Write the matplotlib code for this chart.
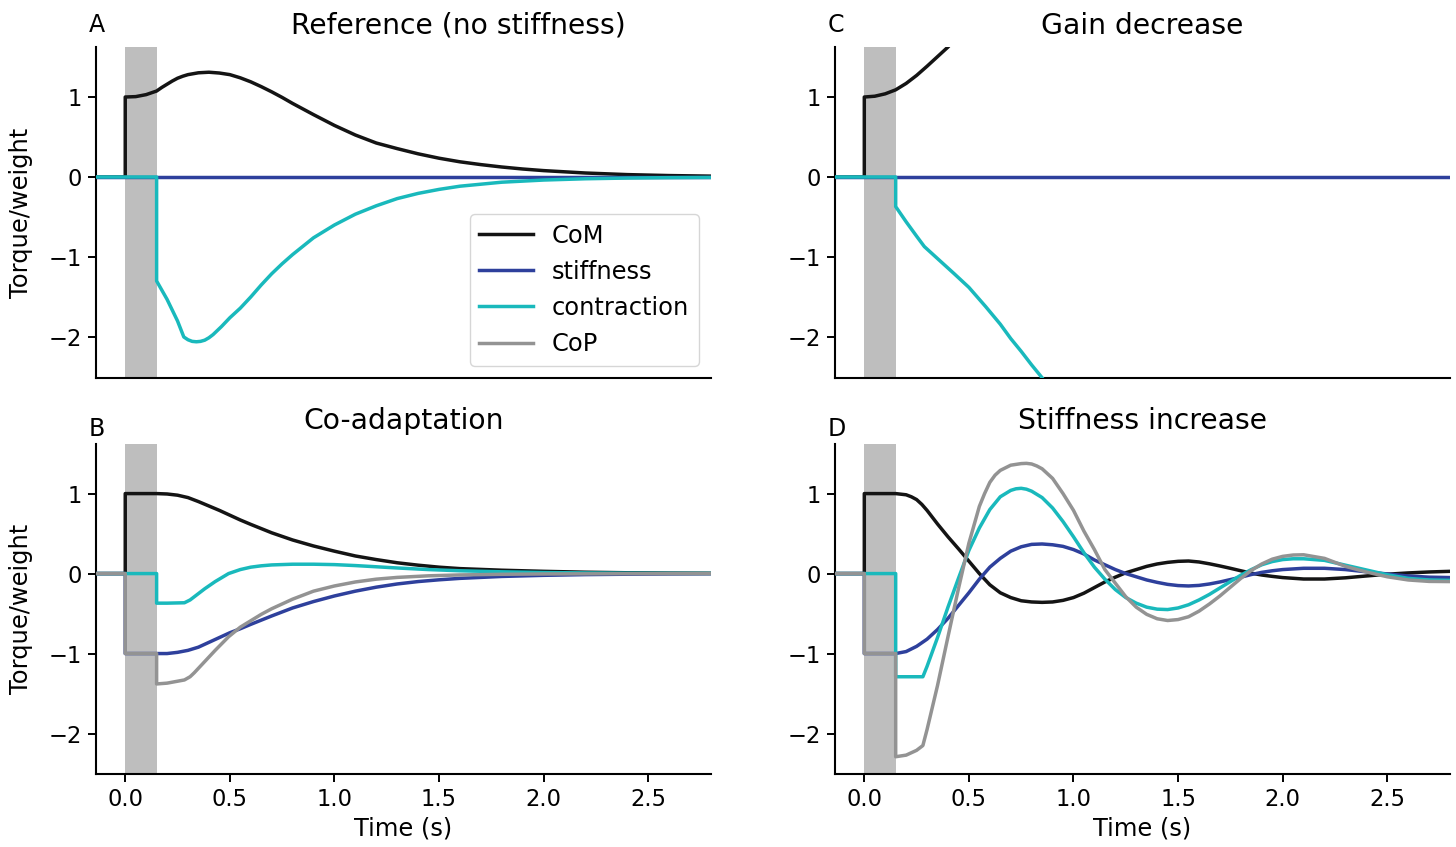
import matplotlib
matplotlib.use("Agg")
import matplotlib.pyplot as plt
from matplotlib.lines import Line2D

plt.rcParams['font.family'] = ['DejaVu Sans']

# ---------------- data ----------------
series_names = ["CoM", "stiffness", "contraction", "CoP"]
panel_titles = {"A": "Reference (no stiffness)", "B": "Co-adaptation",
                "C": "Gain decrease", "D": "Stiffness increase"}
xticks = [0.0, 0.5, 1.0, 1.5, 2.0, 2.5]
yticks = [1, 0, -1, -2]
delay_span = [0.0, 0.15]

# Panel A
A_com_t = [-0.14, 0.0, 0.0, 0.05, 0.10, 0.15, 0.175, 0.20, 0.225, 0.25, 0.275, 0.30, 0.35,
           0.40, 0.45, 0.50, 0.55, 0.60, 0.65, 0.70, 0.75, 0.80, 0.90, 1.00, 1.10, 1.20,
           1.30, 1.40, 1.50, 1.60, 1.70, 1.80, 1.90, 2.00, 2.20, 2.40, 2.60, 2.80]
A_com_y = [0, 0, 1.00, 1.005, 1.03, 1.075, 1.12, 1.16, 1.20, 1.235, 1.26, 1.28, 1.303,
           1.31, 1.30, 1.28, 1.24, 1.19, 1.13, 1.065, 0.995, 0.92, 0.78, 0.645, 0.525, 0.425,
           0.355, 0.29, 0.235, 0.19, 0.155, 0.125, 0.10, 0.08, 0.05, 0.03, 0.018, 0.011]
A_stf_t = [-0.14, 2.80]
A_stf_y = [0, 0]
A_con_t = [-0.14, 0.15, 0.15, 0.20, 0.25, 0.28, 0.30, 0.32, 0.34, 0.36, 0.38, 0.40, 0.42,
           0.46, 0.50, 0.55, 0.60, 0.65, 0.70, 0.75, 0.80, 0.90, 1.00, 1.10, 1.20, 1.30,
           1.40, 1.50, 1.60, 1.80, 2.00, 2.20, 2.40, 2.60, 2.80]
A_con_y = [0, 0, -1.30, -1.53, -1.80, -2.00, -2.035, -2.055, -2.06, -2.055, -2.04, -2.01,
           -1.97, -1.87, -1.76, -1.64, -1.50, -1.35, -1.21, -1.085, -0.97, -0.76, -0.60,
           -0.465, -0.36, -0.27, -0.205, -0.155, -0.115, -0.065, -0.038, -0.022, -0.013,
           -0.008, -0.005]

# Panel B
B_com_t = [-0.14, 0.0, 0.0, 0.15, 0.20, 0.25, 0.30, 0.35, 0.40, 0.45, 0.50, 0.55, 0.60, 0.70,
           0.80, 0.90, 1.00, 1.10, 1.20, 1.30, 1.40, 1.50, 1.60, 1.80, 2.00, 2.20, 2.40, 2.60,
           2.80]
B_com_y = [0, 0, 1.0, 1.0, 0.995, 0.98, 0.95, 0.90, 0.845, 0.79, 0.73, 0.67, 0.615, 0.51,
           0.42, 0.345, 0.28, 0.22, 0.175, 0.135, 0.105, 0.08, 0.062, 0.042, 0.028, 0.017,
           0.01, 0.006, 0.004]
B_stf_t = [-0.14, 0.0, 0.0, 0.15, 0.20, 0.25, 0.30, 0.35, 0.40, 0.45, 0.50, 0.55, 0.60, 0.70,
           0.80, 0.90, 1.00, 1.10, 1.20, 1.30, 1.40, 1.50, 1.60, 1.80, 2.00, 2.20, 2.40, 2.60,
           2.80]
B_stf_y = [0, 0, -1.0, -1.0, -1.0, -0.985, -0.96, -0.92, -0.86, -0.80, -0.74, -0.69, -0.635,
           -0.53, -0.43, -0.35, -0.28, -0.22, -0.17, -0.13, -0.10, -0.078, -0.06, -0.036,
           -0.022, -0.013, -0.008, -0.005, -0.003]
B_con_t = [-0.14, 0.15, 0.15, 0.20, 0.283, 0.31, 0.34, 0.38, 0.43, 0.494, 0.55, 0.60, 0.65,
           0.70, 0.80, 0.90, 1.00, 1.10, 1.20, 1.30, 1.45, 1.60, 1.80, 2.00, 2.20, 2.40, 2.60,
           2.80]
B_con_y = [0, 0, -0.37, -0.37, -0.365, -0.33, -0.27, -0.19, -0.10, 0.0, 0.05, 0.08, 0.097,
           0.108, 0.117, 0.117, 0.112, 0.10, 0.085, 0.07, 0.05, 0.035, 0.022, 0.013, 0.008,
           0.005, 0.003, 0.002]
B_cop_t = [-0.14, 0.0, 0.0, 0.15, 0.15, 0.20, 0.283, 0.31, 0.33, 0.38, 0.43, 0.494, 0.55,
           0.60, 0.65, 0.70, 0.80, 0.90, 1.00, 1.10, 1.20, 1.30, 1.45, 1.60, 1.80, 2.00, 2.40,
           2.80]
B_cop_y = [0, 0, -1.0, -1.0, -1.38, -1.37, -1.33, -1.29, -1.24, -1.10, -0.96, -0.79, -0.67,
           -0.59, -0.51, -0.44, -0.32, -0.22, -0.155, -0.105, -0.07, -0.048, -0.028, -0.017,
           -0.009, -0.005, -0.002, -0.001]

# Panel C
C_com_t = [-0.14, 0.0, 0.0, 0.05, 0.10, 0.15, 0.20, 0.25, 0.30, 0.35, 0.40, 0.45]
C_com_y = [0, 0, 1.0, 1.01, 1.04, 1.09, 1.17, 1.27, 1.385, 1.505, 1.625, 1.77]
C_stf_t = [-0.14, 2.80]
C_stf_y = [0, 0]
C_con_t = [-0.14, 0.15, 0.15, 0.20, 0.25, 0.287, 0.35, 0.43, 0.50, 0.58, 0.65, 0.70, 0.75,
           0.80, 0.85, 0.88]
C_con_y = [0, 0, -0.37, -0.56, -0.74, -0.87, -1.02, -1.21, -1.38, -1.62, -1.84, -2.02, -2.18,
           -2.35, -2.51, -2.62]

# Panel D
D_com_t = [-0.14, 0.0, 0.0, 0.10, 0.15, 0.20, 0.225, 0.25, 0.275, 0.30, 0.35, 0.40, 0.45,
           0.50, 0.55, 0.60, 0.65, 0.70, 0.75, 0.80, 0.85, 0.90, 0.95, 1.00, 1.05, 1.10, 1.15,
           1.20, 1.25, 1.30, 1.35, 1.40, 1.45, 1.50, 1.55, 1.60, 1.65, 1.70, 1.75, 1.80, 1.85,
           1.90, 1.95, 2.00, 2.10, 2.20, 2.30, 2.40, 2.50, 2.60, 2.70, 2.80]
D_com_y = [0, 0, 1.0, 1.0, 1.0, 0.985, 0.96, 0.925, 0.865, 0.79, 0.62, 0.46, 0.31, 0.155,
           0.0, -0.14, -0.24, -0.30, -0.34, -0.355, -0.36, -0.355, -0.335, -0.30, -0.245,
           -0.175, -0.105, -0.045, 0.01, 0.05, 0.09, 0.12, 0.14, 0.153, 0.157, 0.145, 0.122,
           0.095, 0.066, 0.035, 0.005, -0.018, -0.035, -0.05, -0.068, -0.068, -0.053, -0.03,
           -0.008, 0.008, 0.02, 0.028]
D_stf_t = [-0.14, 0.0, 0.0, 0.15, 0.20, 0.25, 0.30, 0.35, 0.40, 0.45, 0.50, 0.55, 0.60, 0.65,
           0.70, 0.75, 0.80, 0.85, 0.90, 0.95, 1.00, 1.05, 1.10, 1.15, 1.20, 1.25, 1.30, 1.35,
           1.40, 1.45, 1.50, 1.55, 1.60, 1.65, 1.70, 1.75, 1.80, 1.85, 1.90, 1.95, 2.00, 2.10,
           2.20, 2.30, 2.40, 2.50, 2.60, 2.70, 2.80]
D_stf_y = [0, 0, -1.0, -1.0, -0.975, -0.91, -0.82, -0.70, -0.56, -0.40, -0.24, -0.07, 0.08,
           0.19, 0.28, 0.335, 0.365, 0.37, 0.36, 0.34, 0.30, 0.245, 0.17, 0.11, 0.05, 0.0,
           -0.04, -0.08, -0.11, -0.135, -0.15, -0.155, -0.148, -0.13, -0.105, -0.075, -0.045,
           -0.012, 0.015, 0.035, 0.05, 0.066, 0.066, 0.05, 0.022, -0.005, -0.03, -0.045, -0.05]
D_con_t = [-0.14, 0.15, 0.15, 0.28, 0.30, 0.35, 0.40, 0.45, 0.50, 0.55, 0.60, 0.65, 0.70,
           0.725, 0.75, 0.775, 0.80, 0.85, 0.90, 0.95, 1.00, 1.05, 1.10, 1.15, 1.20, 1.25,
           1.30, 1.35, 1.40, 1.45, 1.50, 1.55, 1.60, 1.65, 1.70, 1.75, 1.80, 1.85, 1.90, 1.95,
           2.00, 2.05, 2.10, 2.20, 2.30, 2.40, 2.50, 2.60, 2.70, 2.80]
D_con_y = [0, 0, -1.29, -1.29, -1.16, -0.80, -0.42, -0.06, 0.29, 0.57, 0.80, 0.96, 1.04,
           1.06, 1.066, 1.055, 1.03, 0.95, 0.82, 0.65, 0.46, 0.26, 0.08, -0.07, -0.20, -0.30,
           -0.37, -0.42, -0.445, -0.45, -0.43, -0.39, -0.33, -0.26, -0.18, -0.10, -0.02, 0.05,
           0.11, 0.15, 0.175, 0.185, 0.185, 0.165, 0.105, 0.045, -0.015, -0.06, -0.08, -0.085]
D_cop_t = [-0.14, 0.0, 0.0, 0.15, 0.15, 0.20, 0.25, 0.28, 0.30, 0.35, 0.40, 0.45, 0.50, 0.55,
           0.575, 0.60, 0.625, 0.65, 0.70, 0.75, 0.775, 0.80, 0.825, 0.85, 0.90, 0.95, 1.00,
           1.05, 1.10, 1.15, 1.20, 1.25, 1.30, 1.35, 1.40, 1.45, 1.50, 1.55, 1.60, 1.65, 1.70,
           1.75, 1.80, 1.85, 1.90, 1.95, 2.00, 2.05, 2.10, 2.20, 2.30, 2.40, 2.50, 2.60, 2.70,
           2.80]
D_cop_y = [0, 0, -1.0, -1.0, -2.29, -2.27, -2.21, -2.15, -1.95, -1.40, -0.79, -0.19, 0.38,
           0.84, 1.00, 1.14, 1.23, 1.29, 1.355, 1.375, 1.378, 1.37, 1.345, 1.31, 1.19, 1.00,
           0.79, 0.53, 0.30, 0.05, -0.12, -0.29, -0.42, -0.51, -0.565, -0.587, -0.575, -0.54,
           -0.47, -0.38, -0.28, -0.17, -0.06, 0.04, 0.12, 0.18, 0.215, 0.232, 0.235, 0.19,
           0.09, 0.02, -0.04, -0.08, -0.098, -0.10]

# ---------------- style ----------------
colors = {"CoM": "#141414", "stiffness": "#2e409c", "contraction": "#19b9bc", "CoP": "#939393"}
band_color = "#bebebe"
LW = 2.5

fig = plt.figure(figsize=(14.56, 8.47), dpi=100)
axw, axh = 0.4224, 0.390
positions = {"A": (0.0659, 0.554), "C": (0.5735, 0.554),
             "B": (0.0659, 0.0858), "D": (0.5735, 0.0858)}

panel_series = {
    "A": [("CoM", A_com_t, A_com_y), ("stiffness", A_stf_t, A_stf_y),
          ("contraction", A_con_t, A_con_y)],
    "B": [("CoM", B_com_t, B_com_y), ("stiffness", B_stf_t, B_stf_y),
          ("contraction", B_con_t, B_con_y), ("CoP", B_cop_t, B_cop_y)],
    "C": [("CoM", C_com_t, C_com_y), ("stiffness", C_stf_t, C_stf_y),
          ("contraction", C_con_t, C_con_y)],
    "D": [("CoM", D_com_t, D_com_y), ("stiffness", D_stf_t, D_stf_y),
          ("contraction", D_con_t, D_con_y), ("CoP", D_cop_t, D_cop_y)],
}

for key in ["A", "B", "C", "D"]:
    x0, y0 = positions[key]
    ax = fig.add_axes([x0, y0, axw, axh])
    ax.axvspan(delay_span[0], delay_span[1], color=band_color, lw=0, zorder=0)
    for i, (name, t, y) in enumerate(panel_series[key]):
        ax.plot(t, y, color=colors[name], lw=LW, zorder=2 + i,
                solid_joinstyle='round', solid_capstyle='butt')
    ax.set_xlim(-0.14, 2.8)
    ax.set_ylim(-2.51, 1.62)
    ax.set_yticks(yticks)
    ax.set_yticklabels([f"{v}".replace("-", "\u2212") for v in yticks])
    for s in ["top", "right"]:
        ax.spines[s].set_visible(False)
    for s in ["left", "bottom"]:
        ax.spines[s].set_linewidth(1.5)
    ax.tick_params(labelsize=16.3, length=6, width=1.4, pad=4)
    bottom_row = key in ("B", "D")
    if bottom_row:
        ax.set_xticks(xticks)
        ax.set_xticklabels([f"{v:.1f}" for v in xticks])
        ax.set_xlabel("Time (s)", fontsize=17.4, labelpad=4)
    else:
        ax.set_xticks([])
    if key in ("A", "B"):
        ax.set_ylabel("Torque/weight", fontsize=17.4, labelpad=11)
    title_x = 0.59 if key == "A" else 0.5
    pad = 10 if not bottom_row else 11
    ax.set_title(panel_titles[key], fontsize=20.3, x=title_x, pad=pad)
    letter_off = 15 if not bottom_row else 8
    ax.annotate(key, xy=(0, 1), xycoords='axes fraction', xytext=(-7, letter_off),
                textcoords='offset pixels', ha='left', va='baseline', fontsize=17)
    if key == "A":
        handles = [Line2D([], [], color=colors[n], lw=LW) for n in series_names]
        ax.legend(handles, series_names, loc='lower right', fontsize=17.4,
                  handlelength=2.2, borderaxespad=0.5)

fig.savefig("out.png", dpi=100)
